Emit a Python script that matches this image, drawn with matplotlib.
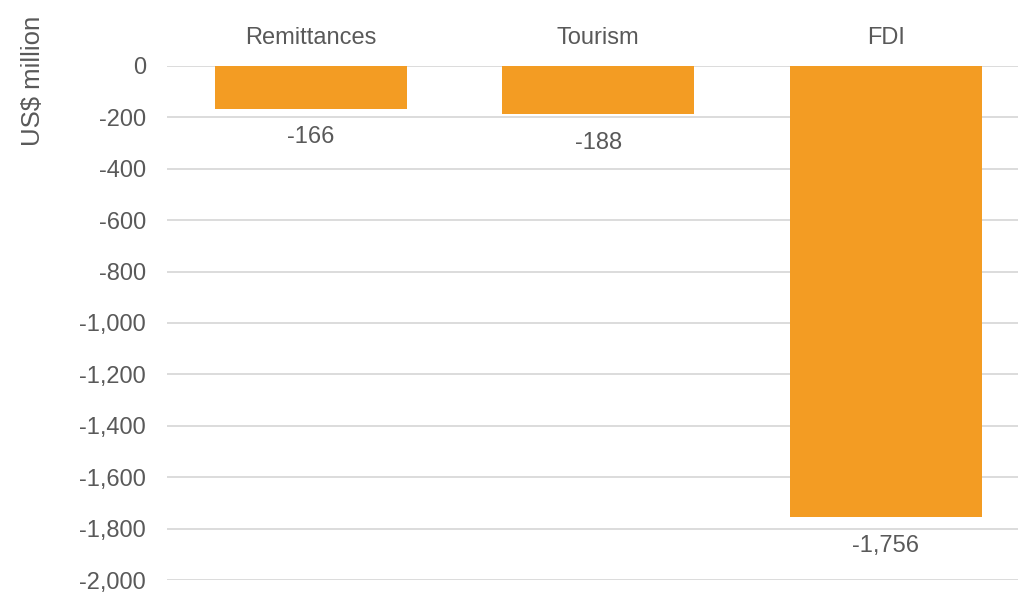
import matplotlib as mpl
import matplotlib.pyplot as plt
import numpy as np

categories = ["Remittances", "Tourism", "FDI"]
values = [-166, -188, -1756]

mpl.rcParams["font.family"] = ["Liberation Sans", "DejaVu Sans"]
text_grey = "#595959"
bar_orange = "#F39C23"

fig = plt.figure(figsize=(10.18, 5.92), dpi=100)
# plot area runs a little past the right edge of the figure
ax = fig.add_axes([167 / 1018, 1 - 580 / 592, 862.5 / 1018, 514 / 592])

x = np.arange(len(categories))
bars = ax.bar(x, values, width=0.668, color=bar_orange, zorder=3)

ax.set_xlim(-0.5, len(categories) - 0.5)
ax.set_ylim(-2000, 0)
ax.set_yticks(np.arange(-2000, 1, 200))
ax.yaxis.set_major_formatter(mpl.ticker.FuncFormatter(lambda v, p: f"{int(v):,}"))
ax.grid(axis="y", color="#D9D9D9", linewidth=1.3, zorder=0)
ax.tick_params(axis="y", length=0, pad=15, labelsize=17, labelcolor=text_grey)

ax.xaxis.tick_top()
ax.set_xticks(x)
ax.set_xticklabels(categories)
ax.tick_params(axis="x", length=0, pad=12, labelsize=17, labelcolor=text_grey)

for side in ax.spines.values():
    side.set_visible(False)

for b, v in zip(bars, values):
    ax.annotate(f"{v:,}", (b.get_x() + b.get_width() / 2, v), xytext=(0, -12.5),
                textcoords="offset points", ha="center", va="top",
                fontsize=17, color=text_grey)

fig.text(33 / 1018, 1 - 81 / 592, "US$ million", rotation=90, ha="center", va="center",
         fontsize=18.5, color=text_grey)

fig.savefig("out.png", dpi=100)
